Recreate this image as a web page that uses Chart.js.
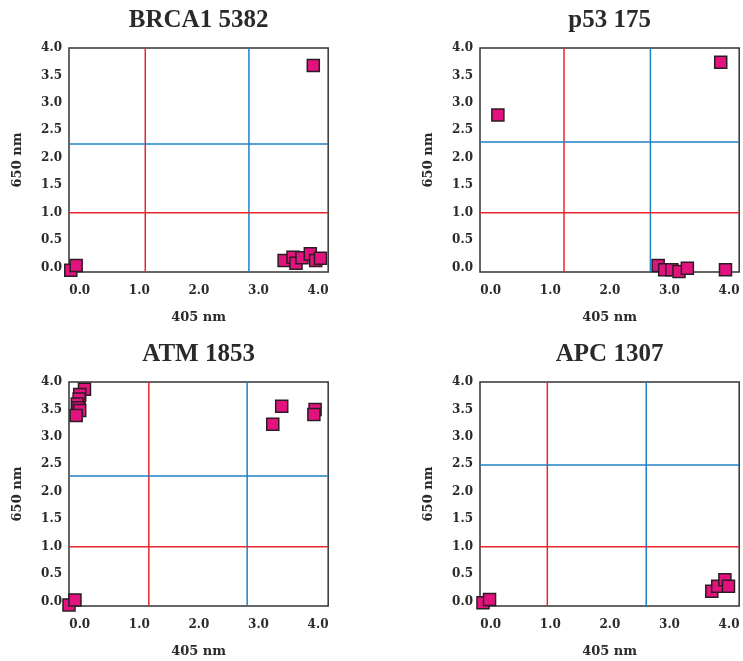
<!DOCTYPE html>
<html>
<head>
<meta charset="utf-8">
<script src="https://cdn.jsdelivr.net/npm/chart.js@4.4.1/dist/chart.umd.min.js"></script>
<style>
    html, body { margin: 0; padding: 0; background: #fff; overflow: hidden; }
    canvas { position: absolute; }
</style>
</head>
<body>
<canvas id="brca" width="341" height="330" style="left:0;top:0"></canvas>
<canvas id="p53" width="341" height="330" style="left:411px;top:0"></canvas>
<canvas id="atm" width="341" height="330" style="left:0;top:334px"></canvas>
<canvas id="apc" width="341" height="330" style="left:411px;top:334px"></canvas>
<script>
// tick labels
const xTicks = [0, 1, 2, 3, 4];
const yTicks = [0, 0.5, 1, 1.5, 2, 2.5, 3, 3.5, 4];

// BRCA1 5382
const brcaX = [-0.15, -0.06, 3.92, 3.43, 3.58, 3.63, 3.73, 3.87, 3.96, 4.04];
const brcaY = [-0.05, 0.04, 3.68, 0.13, 0.19, 0.08, 0.18, 0.25, 0.13, 0.17];
const brcaCut = [1.10, 2.84, 1.0, 2.25]; // red x, blue x, red y, blue y

// p53 175
const p53X = [0.12, 3.86, 2.81, 2.92, 3.04, 3.16, 3.30, 3.94];
const p53Y = [2.78, 3.74, 0.04, -0.04, -0.04, -0.07, -0.01, -0.04];
const p53Cut = [1.23, 2.68, 1.0, 2.29];

// ATM 1853
const atmX = [-0.18, -0.08, 0.08, 0.00, -0.01, -0.04, -0.03, 0.00, -0.06, 3.24, 3.39, 3.95, 3.93];
const atmY = [-0.06, 0.03, 3.87, 3.77, 3.69, 3.60, 3.53, 3.48, 3.39, 3.23, 3.56, 3.50, 3.41];
const atmCut = [1.16, 2.81, 1.0, 2.29];

// APC 1307
const apcX = [-0.13, -0.02, 3.71, 3.81, 3.93, 3.99];
const apcY = [-0.02, 0.04, 0.19, 0.28, 0.40, 0.28];
const apcCut = [0.95, 2.61, 1.0, 2.49];

const RED = '#e8262e';
const BLUE = '#1f80c6';
const INK = '#2a2a2a';
const tickFont = { family: "'DejaVu Serif', serif", size: 12, weight: 'bold' };
const axisFont = { family: "'DejaVu Serif', serif", size: 13, weight: 'bold' };

// box round the plot area
const framePlugin = {
    id: 'frame',
    beforeDatasetsDraw(chart) {
        const { ctx, chartArea: a } = chart;
        ctx.save();
        ctx.strokeStyle = '#333';
        ctx.lineWidth = 1.5;
        ctx.strokeRect(a.left, a.top, a.width, a.height);
        ctx.restore();
    }
};

function cutLine(points, color) {
    return {
        data: points,
        showLine: true,
        borderColor: color,
        borderWidth: 1.5,
        pointRadius: 0,
        order: 2
    };
}

function drawPanel(id, title, xs, ys, cut) {
    const [redX, blueX, redY, blueY] = cut;
    new Chart(document.getElementById(id), {
        type: 'scatter',
        data: {
            datasets: [
                {
                    data: xs.map((x, i) => ({ x: x, y: ys[i] })),
                    pointStyle: 'rect',
                    pointRadius: 8.5,
                    backgroundColor: '#e2127f',
                    borderColor: '#2b1d22',
                    borderWidth: 1.5,
                    clip: false,
                    order: 0
                },
                cutLine([{ x: -1, y: redY }, { x: 5, y: redY }], RED),
                cutLine([{ x: -1, y: blueY }, { x: 5, y: blueY }], BLUE),
                cutLine([{ x: redX, y: -1 }, { x: redX, y: 5 }], RED),
                cutLine([{ x: blueX, y: -1 }, { x: blueX, y: 5 }], BLUE)
            ]
        },
        options: {
            responsive: false,
            animation: false,
            layout: { padding: 0 },
            plugins: {
                legend: { display: false },
                tooltip: { enabled: false },
                title: {
                    display: true,
                    text: title,
                    fullSize: false,
                    color: INK,
                    font: { family: "'Liberation Serif', serif", size: 25, weight: 'bold' },
                    padding: { top: 6, bottom: 12 }
                }
            },
            scales: {
                x: {
                    type: 'linear',
                    min: -0.18,
                    max: 4.17,
                    grid: { display: false, drawTicks: false },
                    border: { display: false },
                    afterBuildTicks: s => { s.ticks = xTicks.map(v => ({ value: v })); },
                    afterFit: s => { s.height = 58; },
                    ticks: { padding: 12, color: INK, font: tickFont, callback: v => v.toFixed(1) },
                    title: { display: true, text: '405 nm', color: INK, font: axisFont, padding: { top: 0, bottom: 5 } }
                },
                y: {
                    type: 'linear',
                    min: -0.08,
                    max: 4.0,
                    grid: { display: false, drawTicks: false },
                    border: { display: false },
                    afterBuildTicks: s => { s.ticks = yTicks.map(v => ({ value: v })); },
                    afterFit: s => { s.width = 69; },
                    ticks: { padding: 7, color: INK, font: tickFont, callback: v => v.toFixed(1) },
                    title: { display: true, text: '650 nm', color: INK, font: axisFont, padding: { top: 10, bottom: 0 } }
                }
            }
        },
        plugins: [framePlugin]
    });
}

drawPanel('brca', 'BRCA1 5382', brcaX, brcaY, brcaCut);
drawPanel('p53', 'p53 175', p53X, p53Y, p53Cut);
drawPanel('atm', 'ATM 1853', atmX, atmY, atmCut);
drawPanel('apc', 'APC 1307', apcX, apcY, apcCut);
</script>
</body>
</html>
